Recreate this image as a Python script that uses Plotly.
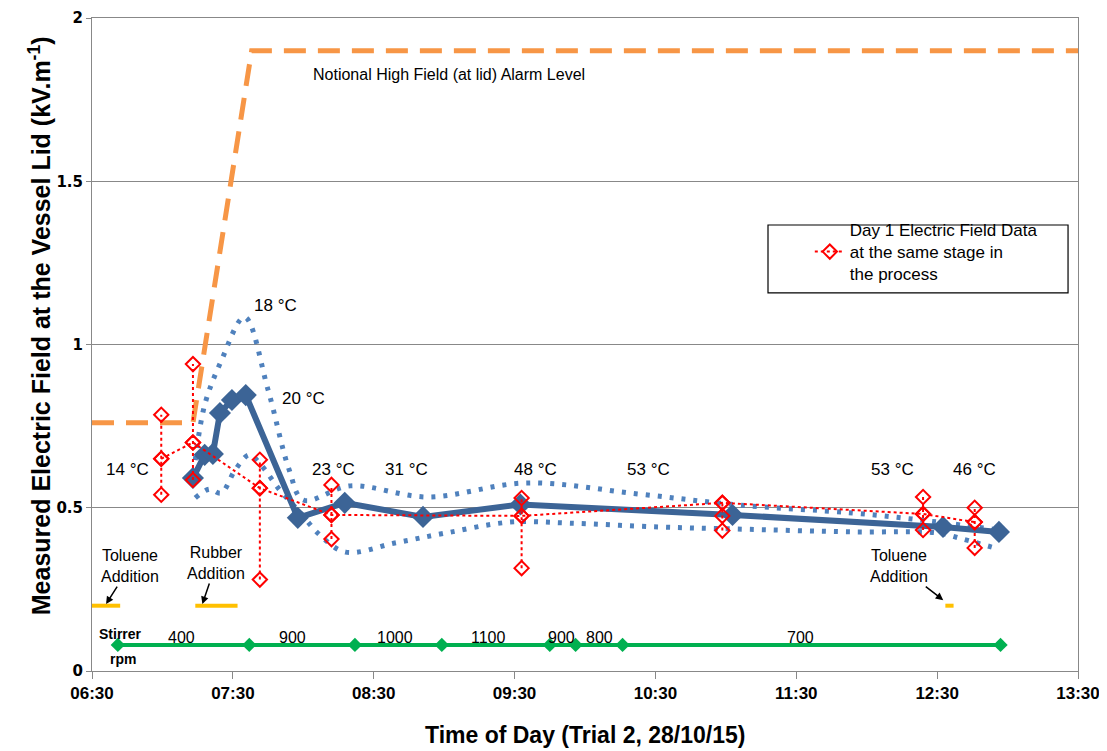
import plotly.graph_objects as go

DAY = "2015-10-28 "

# ---------------- data ----------------
main_times = ["07:13", "07:18", "07:21:30", "07:24:30", "07:29:36", "07:35:30",
              "07:57:40", "08:17:40", "08:51", "09:32:30", "11:02:50", "12:32:30", "12:56:20"]
main_field = [0.591, 0.662, 0.665, 0.79, 0.83, 0.845, 0.469, 0.515, 0.472, 0.51, 0.478, 0.441, 0.426]

upper_times = ["07:14", "07:18", "07:25", "07:35", "07:45", "07:54", "08:00", "08:20", "08:53",
               "09:35", "10:23", "11:06", "11:54", "12:27", "12:56"]
upper_field = [0.646, 0.815, 0.949, 1.084, 0.861, 0.616, 0.524, 0.567, 0.533,
               0.576, 0.542, 0.508, 0.484, 0.459, 0.432]

lower_times = ["07:14", "07:20", "07:25", "07:31", "07:37", "07:42", "07:50", "07:58:30", "08:07",
               "08:18", "08:39", "09:01", "09:28", "09:53", "10:32", "11:04", "11:54", "12:30",
               "12:41", "12:56"]
lower_field = [0.530, 0.557, 0.545, 0.616, 0.662, 0.631, 0.554, 0.487, 0.417,
               0.364, 0.392, 0.423, 0.456, 0.453, 0.441, 0.435, 0.426, 0.423,
               0.404, 0.374]

day1_times = ["06:59:30", "07:13", "07:41:30", "08:12", "09:33", "10:58:30", "12:24", "12:46"]
day1_high = [0.785, 0.94, 0.647, 0.57, 0.53, 0.515, 0.533, 0.50]
day1_mid = [0.65, 0.70, 0.56, 0.478, 0.475, 0.475, 0.481, 0.456]
day1_low = [0.54, 0.585, 0.28, 0.404, 0.315, 0.43, 0.432, 0.377]
day1_line = [0.65, 0.70, 0.56, 0.478, 0.475, 0.515, 0.481, 0.456]

alarm_times = ["06:30", "07:13", "07:38", "13:30"]
alarm_level = [0.76, 0.76, 1.9, 1.9]

addition_segments = [("06:30", "06:42"), ("07:14", "07:32"), ("12:33:30", "12:37")]
addition_level = 0.2

stirrer_times = ["06:41", "07:37", "08:22", "08:59", "09:45", "09:56", "10:16", "12:57"]
stirrer_level = 0.08
rpm_labels = ["400", "900", "1000", "1100", "900", "800", "700"]
rpm_label_times = ["07:08", "07:55:30", "08:39", "09:19", "09:50", "10:06", "11:32"]
rpm_label_level = 0.104

temp_labels = ["14 °C", "18 °C", "20 °C", "23 °C", "31 °C", "48 °C", "53 °C", "53 °C", "46 °C"]
temp_times = ["06:45", "07:48", "08:00", "08:13", "08:44", "09:39", "10:27", "12:11", "12:46"]
temp_levels = [0.616, 1.12, 0.836, 0.616, 0.616, 0.616, 0.616, 0.616, 0.616]


def T(s):
    return DAY + s


fig = go.Figure()

# orange alarm level
fig.add_trace(go.Scatter(
    x=[T(s) for s in alarm_times], y=alarm_level, mode="lines",
    line=dict(color="#F79646", width=5, dash="22px,12px"), showlegend=False))

# yellow addition segments
for a, b in addition_segments:
    fig.add_trace(go.Scatter(
        x=[T(a), T(b)], y=[addition_level, addition_level], mode="lines",
        line=dict(color="#FFC000", width=4), showlegend=False))

# stirrer line
fig.add_trace(go.Scatter(
    x=[T(s) for s in stirrer_times], y=[stirrer_level] * len(stirrer_times),
    mode="lines+markers", line=dict(color="#00B050", width=4),
    marker=dict(symbol="diamond", size=11, color="#00B050"), showlegend=False))

# blue dotted envelopes
for xs, ys in [(upper_times, upper_field), (lower_times, lower_field)]:
    fig.add_trace(go.Scatter(
        x=[T(s) for s in xs], y=ys, mode="lines",
        line=dict(color="#4F81BD", width=5, dash="4px,8px", shape="spline", smoothing=1.0),
        showlegend=False))

# main series
fig.add_trace(go.Scatter(
    x=[T(s) for s in main_times], y=main_field, mode="lines+markers",
    line=dict(color="#3C6496", width=6),
    marker=dict(symbol="diamond", size=17, color="#3C6496"), showlegend=False))

# day 1 vertical ranges
vx, vy = [], []
for t, lo, mi, hi in zip(day1_times, day1_low, day1_mid, day1_high):
    vx += [T(t), T(t), T(t), None]
    vy += [lo, mi, hi, None]
fig.add_trace(go.Scatter(
    x=vx, y=vy, mode="lines+markers",
    line=dict(color="#FF0000", width=2, dash="dot"),
    marker=dict(symbol="diamond-open", size=11, color="#FF0000", line=dict(width=2)),
    showlegend=False))

# day 1 connecting line (legend entry)
fig.add_trace(go.Scatter(
    x=[T(s) for s in day1_times], y=day1_line, mode="lines+markers",
    line=dict(color="#FF0000", width=2, dash="dot"),
    marker=dict(symbol="diamond-open", size=11, color="#FF0000", line=dict(width=2)),
    name="Day 1 Electric Field Data<br>at the same stage in<br>the process", showlegend=True))

ann = []
SANS = "Liberation Sans, Arial, sans-serif"
for lab, t, v in zip(temp_labels, temp_times, temp_levels):
    ann.append(dict(x=T(t), y=v, text=lab, showarrow=False,
                    font=dict(family=SANS, size=17, color="black")))
for lab, t in zip(rpm_labels, rpm_label_times):
    ann.append(dict(x=T(t), y=rpm_label_level, text=lab, showarrow=False,
                    font=dict(family=SANS, size=16, color="black")))
ann.append(dict(x=T("06:42"), y=0.113, text="<b>Stirrer</b>", showarrow=False,
                font=dict(family=SANS, size=14, color="black")))
ann.append(dict(x=T("06:43"), y=0.037, text="<b>rpm</b>", showarrow=False,
                font=dict(family=SANS, size=14, color="black")))
ann.append(dict(x=T("09:02"), y=1.828, text="Notional High Field (at lid) Alarm Level", showarrow=False,
                font=dict(family=SANS, size=16, color="black")))
for text, t, v, ax, ay in [("Toluene<br>Addition", "06:36", 0.205, 24, -38),
                           ("Rubber<br>Addition", "07:17", 0.205, 14, -41),
                           ("Toluene<br>Addition", "12:32:36", 0.217, -44, -34)]:
    ann.append(dict(x=T(t), y=v, text=text, showarrow=True, ax=ax, ay=ay,
                    arrowhead=2, arrowsize=1, arrowwidth=1.5, arrowcolor="black",
                    font=dict(family=SANS, size=16, color="black")))

# axis titles
ann.append(dict(xref="paper", yref="paper", x=0.5, y=-0.098, xanchor="center", yanchor="middle",
                text="<b>Time of Day (Trial 2, 28/10/15)</b>", showarrow=False,
                font=dict(family=SANS, size=23, color="black")))
ann.append(dict(xref="paper", yref="paper", x=-0.0527, y=0.528, xanchor="center", yanchor="middle",
                textangle=-90,
                text="<b>Measured Electric Field at the Vessel Lid (kV.m<sup>-1</sup>)</b>",
                showarrow=False, font=dict(family=SANS, size=25, color="black")))

# the page body has an 8px margin; size the figure so the plot area lands where the reference has it
fig.update_layout(
    width=1099, height=743,
    margin=dict(l=84, r=29, t=10, b=80, autoexpand=False),
    plot_bgcolor="white", paper_bgcolor="white",
    annotations=ann,
    shapes=[dict(type="rect", xref="paper", yref="paper", x0=0.6856, x1=0.9899, y0=0.579, y1=0.683,
                 line=dict(color="black", width=1.2), fillcolor="rgba(0,0,0,0)")],
    legend=dict(x=0.728, y=0.703, xanchor="left", yanchor="top", bgcolor="rgba(0,0,0,0)",
                font=dict(family=SANS, size=17, color="black")),
    xaxis=dict(type="date", range=[T("06:30"), T("13:30")], tick0=T("06:30"), dtick=3600000,
               tickformat="%H:%M", showgrid=False, showline=True, linecolor="#888888", linewidth=1,
               mirror=True, ticks="outside", ticklen=7, tickcolor="#888888", automargin=False,
               tickfont=dict(family=SANS, size=17, color="black", weight="bold"),
               zeroline=False),
    yaxis=dict(range=[0, 2], dtick=0.5, showgrid=True, gridcolor="#888888", gridwidth=1,
               showline=True, linecolor="#888888", linewidth=1, mirror=True, automargin=False,
               ticks="outside", ticklen=5, tickcolor="#888888", tickformat="~g",
               tickfont=dict(family="DejaVu Sans", size=15, color="black", weight="bold"),
               zeroline=False),
)

fig.write_html("out.html")
